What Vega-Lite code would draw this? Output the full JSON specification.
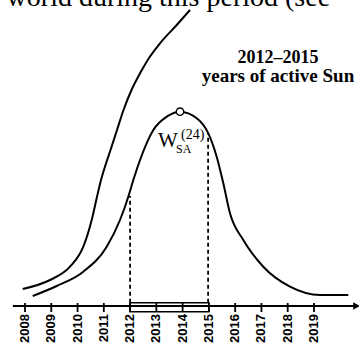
{
  "$schema": "https://vega.github.io/schema/vega-lite/v6.json",
  "width": 359,
  "height": 347,
  "padding": 0,
  "autosize": {"type": "none"},
  "background": "white",
  "config": {"view": {"stroke": null}},
  "datasets": {
    "axisline": [{"x": 2007.54, "x2": 2020.6, "y": 0}],
    "ticks": [
      {"x": 2008, "y": -6, "y2": 3, "label": "2008"}, {"x": 2009, "y": -6, "y2": 3, "label": "2009"},
      {"x": 2010, "y": -6, "y2": 3, "label": "2010"}, {"x": 2011, "y": -6, "y2": 3, "label": "2011"},
      {"x": 2012, "y": -6, "y2": 3, "label": "2012"}, {"x": 2013, "y": -6, "y2": 3, "label": "2013"},
      {"x": 2014, "y": -6, "y2": 3, "label": "2014"}, {"x": 2015, "y": -6, "y2": 3, "label": "2015"},
      {"x": 2016, "y": -6, "y2": 3, "label": "2016"}, {"x": 2017, "y": -6, "y2": 3, "label": "2017"},
      {"x": 2018, "y": -6, "y2": 3, "label": "2018"}, {"x": 2019, "y": -6, "y2": 3, "label": "2019"}
    ],
    "box": [{"x": 2012, "x2": 2015, "y": -5.7, "y2": 3.3}],
    "dashes": [{"x": 2012, "y": 3.3, "y2": 110}, {"x": 2014.97, "y": 3.3, "y2": 173}],
    "curveA": [
      {"x": 2007.912, "y": 17}, {"x": 2008.952, "y": 26}, {"x": 2009.713, "y": 39.3},
      {"x": 2010.219, "y": 59.3}, {"x": 2010.539, "y": 86}, {"x": 2010.741, "y": 109.3},
      {"x": 2010.893, "y": 126}, {"x": 2011.064, "y": 141}, {"x": 2011.255, "y": 156},
      {"x": 2011.502, "y": 176}, {"x": 2011.75, "y": 196}, {"x": 2012.054, "y": 216},
      {"x": 2012.378, "y": 232.7}, {"x": 2012.72, "y": 248}, {"x": 2013.139, "y": 262.7},
      {"x": 2013.775, "y": 281}, {"x": 2014.281, "y": 296}
    ],
    "curveB": [
      {"x": 2008.293, "y": 10}, {"x": 2009.207, "y": 20}, {"x": 2010.219, "y": 34.3},
      {"x": 2011.11, "y": 59.3}, {"x": 2011.616, "y": 86}, {"x": 2011.932, "y": 109.3},
      {"x": 2012.123, "y": 126}, {"x": 2012.379, "y": 146}, {"x": 2012.884, "y": 176},
      {"x": 2013.394, "y": 189.3}, {"x": 2013.9, "y": 194.3}, {"x": 2014.536, "y": 187.7},
      {"x": 2014.978, "y": 172.7}, {"x": 2015.297, "y": 149.3}, {"x": 2015.549, "y": 122.7},
      {"x": 2015.803, "y": 92.7}, {"x": 2016.31, "y": 66}, {"x": 2017.071, "y": 39.3},
      {"x": 2018.088, "y": 19.3}, {"x": 2019.23, "y": 11}, {"x": 2020.307, "y": 11}
    ],
    "peak": [{"x": 2013.9, "y": 194.3}],
    "arrow": [{"x": 2020.62, "y": 0}]
  },
  "layer": [
    {
      "data": {"name": "axisline"},
      "mark": {"type": "rule", "color": "black", "strokeWidth": 2},
      "encoding": {
        "x": {"field": "x", "type": "quantitative",
          "scale": {"domain": [2007.048, 2020.714], "nice": false, "zero": false}, "axis": null},
        "x2": {"field": "x2"},
        "y": {"field": "y", "type": "quantitative",
          "scale": {"domain": [-41, 306], "nice": false, "zero": false}, "axis": null}
      }
    },
    {
      "data": {"name": "ticks"},
      "mark": {"type": "rule", "color": "black", "strokeWidth": 1.8},
      "encoding": {
        "x": {"field": "x", "type": "quantitative", "axis": null},
        "y": {"field": "y", "type": "quantitative", "axis": null},
        "y2": {"field": "y2"}
      }
    },
    {
      "data": {"name": "ticks"},
      "mark": {"type": "text", "angle": 270, "align": "right", "baseline": "middle", "dy": 0, "font": "Liberation Sans", "fontWeight": "bold", "fontSize": 13, "color": "black"},
      "encoding": {
        "x": {"field": "x", "type": "quantitative", "axis": null},
        "y": {"value": 314},
        "text": {"field": "label"}
      }
    },
    {
      "data": {"name": "box"},
      "mark": {"type": "rect", "fillOpacity": 0, "stroke": "black", "strokeWidth": 1.5},
      "encoding": {
        "x": {"field": "x", "type": "quantitative", "axis": null},
        "x2": {"field": "x2"},
        "y": {"field": "y", "type": "quantitative", "axis": null},
        "y2": {"field": "y2"}
      }
    },
    {
      "data": {"name": "dashes"},
      "mark": {"type": "rule", "color": "black", "strokeWidth": 1.8, "strokeDash": [4, 3]},
      "encoding": {
        "x": {"field": "x", "type": "quantitative", "axis": null},
        "y": {"field": "y", "type": "quantitative", "axis": null},
        "y2": {"field": "y2"}
      }
    },
    {
      "data": {"name": "curveA"},
      "mark": {"type": "line", "color": "black", "strokeWidth": 2, "interpolate": "monotone"},
      "encoding": {
        "x": {"field": "x", "type": "quantitative", "axis": null},
        "y": {"field": "y", "type": "quantitative", "axis": null}
      }
    },
    {
      "data": {"name": "curveB"},
      "mark": {"type": "line", "color": "black", "strokeWidth": 2, "interpolate": "monotone"},
      "encoding": {
        "x": {"field": "x", "type": "quantitative", "axis": null},
        "y": {"field": "y", "type": "quantitative", "axis": null}
      }
    },
    {
      "data": {"name": "peak"},
      "mark": {"type": "point", "shape": "circle", "size": 55, "filled": false, "stroke": "black", "fill": "white", "fillOpacity": 1, "strokeWidth": 1.3},
      "encoding": {
        "x": {"field": "x", "type": "quantitative", "axis": null},
        "y": {"field": "y", "type": "quantitative", "axis": null}
      }
    },
    {
      "data": {"name": "arrow"},
      "mark": {"type": "point", "shape": "triangle-right", "size": 60, "filled": true, "color": "black", "opacity": 1},
      "encoding": {
        "x": {"field": "x", "type": "quantitative", "axis": null},
        "y": {"field": "y", "type": "quantitative", "axis": null}
      }
    },
    {
      "data": {"values": [
        {"x": 2007.3, "y": 300, "label": "world during this period (see"}
      ]},
      "mark": {"type": "text", "align": "left", "baseline": "alphabetic", "font": "Liberation Serif", "fontSize": 28, "color": "black"},
      "encoding": {
        "x": {"field": "x", "type": "quantitative", "axis": null},
        "y": {"field": "y", "type": "quantitative", "axis": null},
        "text": {"field": "label"}
      }
    },
    {
      "data": {"values": [
        {"x": 2017.63, "y": 243, "label": "2012–2015", "size": 18},
        {"x": 2017.63, "y": 224, "label": "years of active Sun", "size": 19}
      ]},
      "mark": {"type": "text", "align": "center", "baseline": "alphabetic", "font": "Liberation Serif", "fontWeight": "bold", "color": "black"},
      "encoding": {
        "x": {"field": "x", "type": "quantitative", "axis": null},
        "y": {"field": "y", "type": "quantitative", "axis": null},
        "text": {"field": "label"},
        "size": {"field": "size", "type": "quantitative", "scale": null, "legend": null}
      }
    },
    {
      "data": {"values": [
        {"x": 2013.063, "y": 159, "label": "W", "size": 21, "weight": "normal"},
        {"x": 2013.938, "y": 167, "label": "(24)", "size": 14, "weight": "bold"},
        {"x": 2013.748, "y": 153.5, "label": "SA", "size": 12, "weight": "bold"}
      ]},
      "mark": {"type": "text", "align": "left", "baseline": "alphabetic", "font": "Liberation Serif", "color": "black"},
      "encoding": {
        "x": {"field": "x", "type": "quantitative", "axis": null},
        "y": {"field": "y", "type": "quantitative", "axis": null},
        "text": {"field": "label"},
        "size": {"field": "size", "type": "quantitative", "scale": null, "legend": null},
        "fontWeight": {"field": "weight", "type": "nominal", "scale": null, "legend": null}
      }
    }
  ]
}
